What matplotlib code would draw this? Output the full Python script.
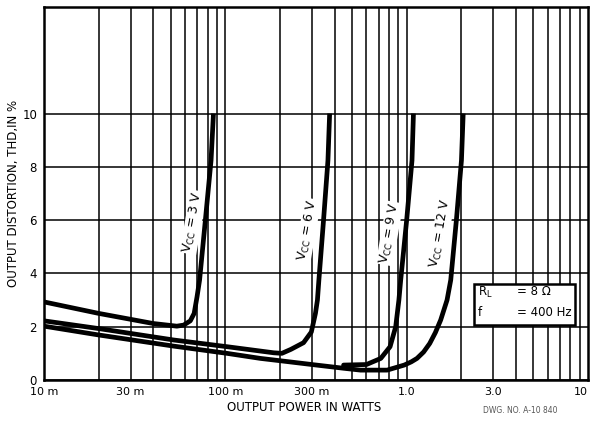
import matplotlib
matplotlib.use("Agg")
from matplotlib import pyplot as plt
from matplotlib.patches import Rectangle
import numpy as np

# curves: output power (W) vs THD (%)
p_3v = [0.01, 0.02, 0.04, 0.054, 0.0589, 0.0641, 0.0673, 0.0698, 0.0721, 0.0776, 0.0834, 0.086]
thd_3v = [2.93, 2.5, 2.12, 2.02, 2.06, 2.22, 2.5, 3.12, 3.75, 6.0, 8.24, 10.0]

p_6v = [0.01, 0.02, 0.052, 0.102, 0.185, 0.205, 0.23, 0.27, 0.298, 0.314, 0.322, 0.328, 0.348, 0.368, 0.376]
thd_6v = [2.22, 1.93, 1.5, 1.25, 1.02, 1.0, 1.15, 1.4, 1.8, 2.5, 3.0, 3.75, 6.0, 8.24, 10.0]

p_9v = [0.449, 0.449, 0.6, 0.72, 0.81, 0.87, 0.906, 0.927, 1.0, 1.07, 1.09]
thd_9v = [0.44, 0.56, 0.58, 0.81, 1.25, 2.0, 3.0, 3.75, 6.0, 8.24, 10.0]

p_12v = [0.01, 0.02, 0.052, 0.102, 0.156, 0.22, 0.3, 0.449, 0.557, 0.78, 0.97, 1.06, 1.14, 1.24, 1.34, 1.44, 1.54, 1.67, 1.75, 1.88, 2.005, 2.05]
thd_12v = [2.02, 1.69, 1.27, 1.0, 0.81, 0.69, 0.58, 0.44, 0.37, 0.37, 0.56, 0.68, 0.81, 1.05, 1.37, 1.78, 2.25, 3.0, 3.75, 6.0, 8.24, 10.0]

curves = [(p_3v, thd_3v), (p_6v, thd_6v), (p_9v, thd_9v), (p_12v, thd_12v)]

# curve labels: text, (power, thd) of label centre
label_txt = [r"V$_{\rm CC}$ = 3 V", r"V$_{\rm CC}$ = 6 V", r"V$_{\rm CC}$ = 9 V", r"V$_{\rm CC}$ = 12 V"]
label_p = [0.0666, 0.284, 0.805, 1.54]
label_thd = [5.92, 5.62, 5.5, 5.5]

xticks = [0.01, 0.03, 0.1, 0.3, 1.0, 3.0, 10.0]
xticklabels = ["10 m", "30 m", "100 m", "300 m", "1.0", "3.0", "10"]
yticks = [0, 2, 4, 6, 8, 10]

fig = plt.figure(figsize=(5.9, 4.23), dpi=100)
ax = fig.add_axes([0.0746, 0.1017, 0.922, 0.8818])
ax.set_xscale("log")
ax.set_xlim(0.01, 10)
ax.set_ylim(0, 14)

# grid: all log minors, horizontal only up to 10
for dec in [0.01, 0.1, 1.0]:
    for k in range(1, 10):
        ax.axvline(dec * k, color="black", lw=1.1, zorder=1)
for y in yticks:
    ax.axhline(y, color="black", lw=1.1, zorder=1)

for p, t in curves:
    ax.plot(p, t, color="black", lw=3.4, solid_capstyle="butt", solid_joinstyle="round", zorder=3)

for txt, px, py in zip(label_txt, label_p, label_thd):
    ax.text(px, py, txt, rotation=80, ha="center", va="center", fontsize=9,
            bbox=dict(facecolor="white", edgecolor="none", pad=0.6), zorder=2)

# condition box
ax.add_patch(Rectangle((0.790, 0.147), 0.186, 0.110, transform=ax.transAxes,
                       facecolor="white", edgecolor="black", lw=1.8, zorder=4))
ax.text(0.798, 0.236, r"R$_{\rm L}$", transform=ax.transAxes, fontsize=8.5, va="center", zorder=5)
ax.text(0.869, 0.236, "= 8 Ω", transform=ax.transAxes, fontsize=8.5, va="center", zorder=5)
ax.text(0.798, 0.180, "f", transform=ax.transAxes, fontsize=8.5, va="center", zorder=5)
ax.text(0.869, 0.180, "= 400 Hz", transform=ax.transAxes, fontsize=8.5, va="center", zorder=5)

ax.set_xticks(xticks)
ax.set_xticklabels(xticklabels, fontsize=8)
ax.get_xticklabels()[-1].set_ha("right")
ax.set_xticks([], minor=True)
ax.set_yticks(yticks)
ax.set_yticklabels([str(v) for v in yticks], fontsize=8.5)
ax.tick_params(length=0, pad=5)

for s in ax.spines.values():
    s.set_linewidth(1.8)

ax.set_xlabel("OUTPUT POWER IN WATTS", fontsize=8.5)
ax.xaxis.set_label_coords(0.478, -0.056)
ax.set_ylabel("OUTPUT DISTORTION, THD,IN %", fontsize=8.5)
ax.yaxis.set_label_coords(-0.044, 0.5)

fig.text(0.819, 0.024, "DWG. NO. A-10 840", fontsize=5.5, color="#555555")

fig.savefig("out.png", dpi=100)
